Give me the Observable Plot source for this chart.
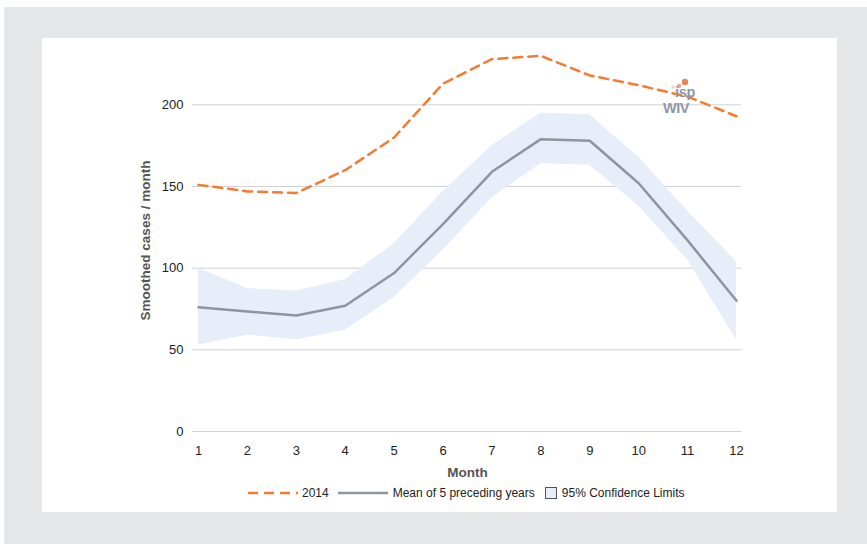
<!DOCTYPE html>
<html><head><meta charset="utf-8">
<script src="https://cdn.jsdelivr.net/npm/d3@7"></script>
<script src="https://cdn.jsdelivr.net/npm/@observablehq/plot@0.6"></script>
<style>
html,body{margin:0;padding:0;background:#fff;}
body{width:867px;height:544px;overflow:hidden;position:relative;font-family:"Liberation Sans",Arial,Helvetica,sans-serif;}
#bg{position:absolute;left:4px;top:7px;right:0;bottom:0;background:#e6e7e9;}
#panel{position:absolute;left:42px;top:38px;width:795px;height:474px;background:#fff;}
#chart{position:absolute;left:0;top:0;}
#legend{position:absolute;left:206px;top:448px;display:flex;align-items:center;font-size:12px;color:#222;white-space:nowrap;}
#legend .item{display:flex;align-items:center;}
#logo{position:absolute;left:615px;top:35px;}
</style></head>
<body>
<div id="bg"></div>
<div id="panel">
  <div id="chart"></div>
  <svg id="logo" width="60" height="50">
    <circle cx="9" cy="11" r="1.1" fill="#e6e8ec"/>
    <circle cx="16" cy="14" r="1.6" fill="#f0c7b3"/>
    <circle cx="22" cy="13" r="2.2" fill="#f2a88a"/>
    <circle cx="28" cy="9" r="3.2" fill="#ee8259"/>
    <text x="18" y="24" font-size="14.5" font-weight="bold" fill="#8d98a4" font-family="Liberation Sans, Arial, sans-serif" letter-spacing="-0.3">isp</text>
    <text x="6" y="40" font-size="14.5" font-weight="bold" fill="#8d98a4" font-family="Liberation Sans, Arial, sans-serif" letter-spacing="-0.5">WIV</text>
  </svg>
  <div id="legend">
    <div class="item"><svg width="50" height="10" style="margin-right:4px"><line x1="0" y1="5" x2="50" y2="5" stroke="#f47b30" stroke-width="2.5" stroke-dasharray="10,6"/></svg>2014</div>
    <div class="item" style="margin-left:9px"><svg width="50" height="10" style="margin-right:5px"><line x1="0" y1="5" x2="50" y2="5" stroke="#8e959c" stroke-width="2.5"/></svg>Mean of 5 preceding years</div>
    <div class="item" style="margin-left:10px"><svg width="12" height="12" style="margin-right:5px"><rect x="0.5" y="0.5" width="11" height="11" fill="#e8eef8" stroke="#555" stroke-width="1"/></svg>95% Confidence Limits</div>
  </div>
</div>
<script>
const months = [1,2,3,4,5,6,7,8,9,10,11,12];
const cases2014 = [151,147,146,160,180,213,228,230,218,212,205,193];
const meanPrev = [76,73.5,71,77,97,127,159,179,178,152,117,80];
const upperCI = [100,87.5,86,93,115,147,175,195,194,168,135,104];
const lowerCI = [53,59,56,62,82,111,143,164,163,138,105,56];
const yTicks = [0,50,100,150,200];

const rows = months.map((m,i)=>({month:m, y2014:cases2014[i], mean:meanPrev[i], upper:upperCI[i], lower:lowerCI[i]}));

const font = '"Liberation Sans", Arial, Helvetica, sans-serif';
const chart = Plot.plot({
  width: 795,
  height: 446,
  marginLeft: 156,
  marginRight: 101,
  marginTop: 1,
  marginBottom: 53,
  style: {fontFamily: font, fontSize: "13px", color: "#222", background: "transparent"},
  x: {domain: [1,12]},
  y: {domain: [0,240]},
  marks: [
    Plot.ruleY(yTicks, {stroke: "#cfd1d4", strokeWidth: 1, insetLeft: -6, insetRight: -5}),
    Plot.areaY(rows, {x: "month", y1: "lower", y2: "upper", fill: "#e7eef9"}),
    Plot.lineY(rows, {x: "month", y: "mean", stroke: "#8e959c", strokeWidth: 2.5}),
    Plot.lineY(rows, {x: "month", y: "y2014", stroke: "#f47b30", strokeWidth: 2.5, strokeDasharray: "9,6"}),
    Plot.axisX(months, {tickSize: 0, tickPadding: 14, label: null, fill: "#222", fontSize: 13}),
    Plot.axisY(yTicks, {tickSize: 0, tickPadding: 15, label: null, fill: "#222", fontSize: 13}),
    Plot.text(["Month"], {frameAnchor: "bottom", dy: 45, fontWeight: "bold", fontSize: 13.5, fill: "#555"}),
    Plot.text(["Smoothed cases / month"], {frameAnchor: "left", dx: -53, dy: 5, rotate: -90, textAnchor: "middle", fontWeight: "bold", fontSize: 13.5, fill: "#555"})
  ]
});
document.getElementById("chart").appendChild(chart);
</script>
</body></html>
